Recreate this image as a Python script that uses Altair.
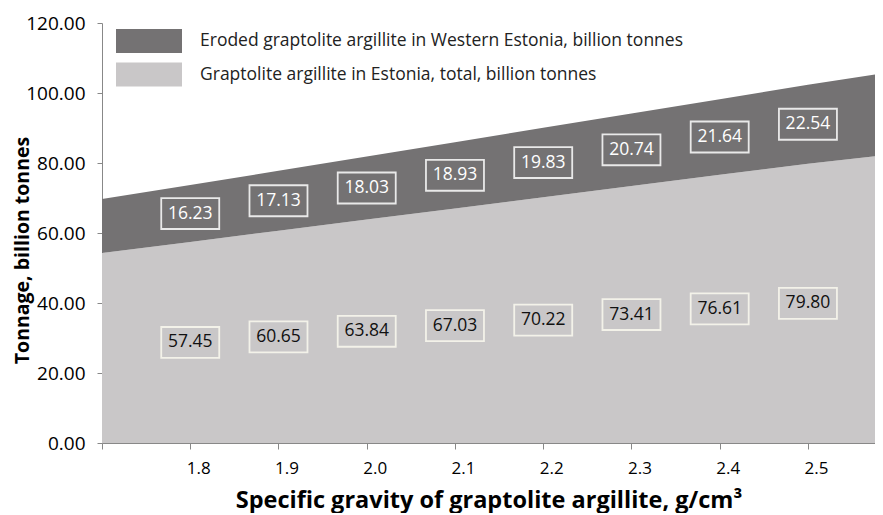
import altair as alt
import pandas as pd

# ---- data ----
gravity = [1.8, 1.9, 2.0, 2.1, 2.2, 2.3, 2.4, 2.5]
total_estonia = [57.45, 60.65, 63.84, 67.03, 70.22, 73.41, 76.61, 79.80]
eroded_west = [16.23, 17.13, 18.03, 18.93, 19.83, 20.74, 21.64, 22.54]
# values where the areas meet the left and right edges of the plot
edge_gravity = [1.7, 2.576]
edge_total = [54.3, 81.9]
edge_eroded = [15.4, 23.4]

S_ERODED = "Eroded graptolite argillite in Western Estonia, billion tonnes"
S_TOTAL = "Graptolite argillite in Estonia, total, billion tonnes"
y_ticks = [0, 20, 40, 60, 80, 100, 120]
x_ticks = [1.7, 1.8, 1.9, 2.0, 2.1, 2.2, 2.3, 2.4, 2.5]

DARK = "#747273"
LIGHT = "#c9c7c8"
AXIS = "#888888"
FONT = "Open Sans"

# ---- tables ----
xs = [edge_gravity[0]] + gravity + [edge_gravity[1]]
tot = [edge_total[0]] + total_estonia + [edge_total[1]]
ero = [edge_eroded[0]] + eroded_west + [edge_eroded[1]]
rows = []
for x, t, e in zip(xs, tot, ero):
    rows.append({"x": x, "series": S_TOTAL, "value": t, "ord": 0})
    rows.append({"x": x, "series": S_ERODED, "value": e, "ord": 1})
area_df = pd.DataFrame(rows)

lab_total = pd.DataFrame({"x": gravity, "value": total_estonia,
                          "mid": [t / 2 for t in total_estonia]})
lab_eroded = pd.DataFrame({"x": gravity, "value": eroded_west,
                           "mid": [t + e / 2 for t, e in zip(total_estonia, eroded_west)]})

xscale = alt.Scale(domain=[edge_gravity[0], edge_gravity[1]], nice=False, zero=False)
yscale = alt.Scale(domain=[0, 120], nice=False)

xaxis = alt.Axis(
    values=x_ticks, labelExpr="datum.value < 1.75 ? '' : format(datum.value, '.1f')",
    title="Specific gravity of graptolite argillite, g/cm³",
    grid=False, domainColor=AXIS, tickColor=AXIS, tickSize=6,
    labelOffset=8, labelPadding=11, labelFont=FONT, labelFontSize=17, labelColor="#000",
    titleFont=FONT, titleFontSize=23.5, titleFontWeight="bold", titleColor="#000",
    titleY=57, titleBaseline="middle",
)
yaxis = alt.Axis(
    values=y_ticks, format=".2f", title="Tonnage, billion tonnes",
    grid=False, domainColor=AXIS, tickColor=AXIS, tickSize=5,
    labelPadding=12, labelFont=FONT, labelFontSize=19, labelColor="#000",
    titleFont=FONT, titleFontSize=19.5, titleFontWeight="bold", titleColor="#000",
    titleX=-80, titleY=227, titleBaseline="middle", titleAngle=-90,
)

legend = alt.Legend(
    title=None, orient="none", legendX=35, legendY=6, padding=0,
    symbolType="M-2.75,-1L2.75,-1L2.75,1L-2.75,1Z", symbolSize=576,
    symbolStrokeWidth=0, symbolOpacity=1, labelOffset=39, rowPadding=9.5,
    labelFont=FONT, labelFontSize=17.5, labelColor="#222", labelLimit=0,
)

area = alt.Chart(area_df).mark_area(opacity=1).encode(
    x=alt.X("x:Q", scale=xscale, axis=xaxis),
    y=alt.Y("value:Q", stack="zero", scale=yscale, axis=yaxis),
    color=alt.Color("series:N", scale=alt.Scale(domain=[S_ERODED, S_TOTAL], range=[DARK, LIGHT]),
                    legend=legend),
    order=alt.Order("ord:Q"),
)

BOX = "M-1,-0.534L1,-0.534L1,0.534L-1,0.534Z"

box_e = alt.Chart(lab_eroded).mark_point(
    shape=BOX, size=3364, filled=True, fill=DARK, stroke="#e9e9e9", strokeWidth=1.8, opacity=1
).encode(x=alt.X("x:Q", scale=xscale), y=alt.Y("mid:Q", scale=yscale))
txt_e = alt.Chart(lab_eroded).mark_text(
    font=FONT, fontSize=17.5, color="#ffffff", baseline="middle", align="center"
).encode(x=alt.X("x:Q", scale=xscale), y=alt.Y("mid:Q", scale=yscale),
         text=alt.Text("value:Q", format=".2f"))

box_t = alt.Chart(lab_total).mark_point(
    shape=BOX, size=3364, filled=True, fill=LIGHT, stroke="#f3f2e9", strokeWidth=1.8, opacity=1
).encode(x=alt.X("x:Q", scale=xscale), y=alt.Y("mid:Q", scale=yscale))
txt_t = alt.Chart(lab_total).mark_text(
    font=FONT, fontSize=17.5, color="#111111", baseline="middle", align="center"
).encode(x=alt.X("x:Q", scale=xscale), y=alt.Y("mid:Q", scale=yscale),
         text=alt.Text("value:Q", format=".2f"))

chart = alt.layer(area, box_e, txt_e, box_t, txt_t).properties(
    width=773, height=420,
    autosize=alt.AutoSizeParams(type="none"),
    padding={"left": 94, "top": 15, "right": 0, "bottom": 70},
    background="white",
).configure_view(stroke=None)

chart.save("out.html", embed_options={"renderer": "svg", "actions": False})
